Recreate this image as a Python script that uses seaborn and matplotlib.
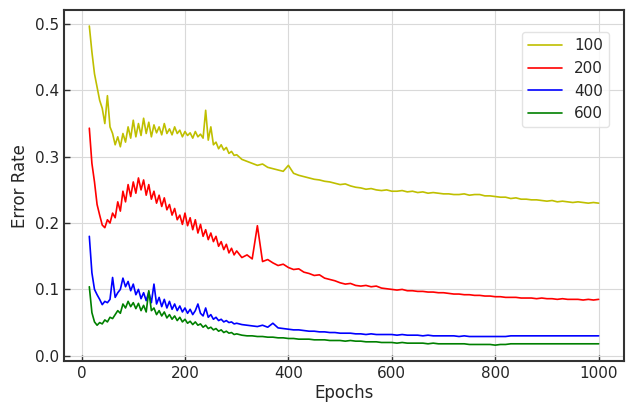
# Error rate vs. epochs for four settings (100, 200, 400, 600)

import numpy as np
import pandas as pd
import matplotlib.pyplot as plt
import seaborn as sns

# --------------------------------------------------
# Data
# --------------------------------------------------

# epochs 15..295 every 5, then 300..1000 every 10
epochs_early = np.arange(15, 300, 5)
epochs_late = np.arange(300, 1001, 10)
epochs = np.concatenate([epochs_early, epochs_late])

err_100 = [
    0.497, 0.458, 0.425, 0.405, 0.385, 0.373, 0.350, 0.392, 0.345, 0.335,
    0.318, 0.330, 0.315, 0.335, 0.322, 0.345, 0.328, 0.355, 0.330, 0.350,
    0.332, 0.358, 0.335, 0.352, 0.330, 0.348, 0.336, 0.345, 0.333, 0.350,
    0.335, 0.342, 0.333, 0.345, 0.335, 0.340, 0.330, 0.338, 0.332, 0.336,
    0.328, 0.338, 0.330, 0.334, 0.328, 0.370, 0.325, 0.345, 0.318, 0.322,
    0.312, 0.318, 0.310, 0.314, 0.305, 0.308, 0.302,
    0.303, 0.296, 0.293, 0.290, 0.287, 0.289, 0.284, 0.282, 0.280, 0.278,
    0.287, 0.275, 0.272, 0.270, 0.268, 0.266, 0.265, 0.263, 0.262, 0.260,
    0.258, 0.259, 0.256, 0.254, 0.253, 0.251, 0.252, 0.250, 0.249, 0.250,
    0.248, 0.248, 0.249, 0.247, 0.248, 0.246, 0.247, 0.245, 0.246, 0.245,
    0.244, 0.244, 0.243, 0.243, 0.244, 0.242, 0.243, 0.243, 0.241, 0.241,
    0.240, 0.239, 0.239, 0.237, 0.238, 0.236, 0.236, 0.235, 0.235, 0.234,
    0.233, 0.234, 0.232, 0.233, 0.232, 0.231, 0.232, 0.231, 0.230, 0.231,
    0.230,
]

err_200 = [
    0.343, 0.290, 0.262, 0.228, 0.212, 0.197, 0.193, 0.205, 0.200, 0.215,
    0.208, 0.232, 0.218, 0.248, 0.232, 0.258, 0.240, 0.262, 0.245, 0.268,
    0.250, 0.265, 0.242, 0.258, 0.236, 0.248, 0.230, 0.242, 0.225, 0.238,
    0.220, 0.228, 0.212, 0.222, 0.205, 0.212, 0.198, 0.215, 0.196, 0.208,
    0.190, 0.205, 0.185, 0.198, 0.180, 0.190, 0.175, 0.185, 0.172, 0.180,
    0.165, 0.172, 0.160, 0.168, 0.155, 0.162, 0.152,
    0.158, 0.148, 0.152, 0.146, 0.196, 0.142, 0.145, 0.140, 0.136, 0.138,
    0.133, 0.130, 0.131, 0.126, 0.124, 0.121, 0.122, 0.117, 0.115, 0.113,
    0.110, 0.108, 0.109, 0.106, 0.105, 0.106, 0.104, 0.105, 0.102, 0.101,
    0.100, 0.099, 0.100, 0.098, 0.098, 0.097, 0.097, 0.096, 0.096, 0.095,
    0.095, 0.094, 0.093, 0.093, 0.092, 0.092, 0.091, 0.091, 0.090, 0.090,
    0.089, 0.089, 0.088, 0.088, 0.088, 0.087, 0.087, 0.087, 0.086, 0.087,
    0.086, 0.086, 0.085, 0.086, 0.085, 0.085, 0.085, 0.084, 0.085, 0.084,
    0.085,
]

err_400 = [
    0.180, 0.125, 0.100, 0.092, 0.085, 0.077, 0.082, 0.080, 0.085, 0.118,
    0.088, 0.095, 0.100, 0.117, 0.104, 0.112, 0.098, 0.108, 0.092, 0.100,
    0.086, 0.095, 0.083, 0.096, 0.080, 0.108, 0.078, 0.088, 0.074, 0.085,
    0.072, 0.082, 0.070, 0.078, 0.068, 0.075, 0.066, 0.072, 0.064, 0.070,
    0.062, 0.068, 0.078, 0.064, 0.060, 0.072, 0.058, 0.062, 0.055, 0.058,
    0.053, 0.055, 0.051, 0.053, 0.050, 0.051, 0.048,
    0.049, 0.047, 0.046, 0.045, 0.044, 0.046, 0.043, 0.049, 0.042, 0.041,
    0.040, 0.039, 0.039, 0.038, 0.037, 0.037, 0.036, 0.036, 0.035, 0.035,
    0.034, 0.034, 0.034, 0.033, 0.033, 0.032, 0.033, 0.032, 0.032, 0.032,
    0.032, 0.031, 0.032, 0.031, 0.031, 0.031, 0.030, 0.031, 0.030, 0.030,
    0.030, 0.030, 0.030, 0.029, 0.030, 0.029, 0.029, 0.029, 0.029, 0.029,
    0.029, 0.029, 0.029, 0.030, 0.030, 0.030, 0.030, 0.030, 0.030, 0.030,
    0.030, 0.030, 0.030, 0.030, 0.030, 0.030, 0.030, 0.030, 0.030, 0.030,
    0.030,
]

err_600 = [
    0.104, 0.065, 0.051, 0.046, 0.050, 0.048, 0.054, 0.051, 0.058, 0.056,
    0.062, 0.068, 0.064, 0.078, 0.072, 0.082, 0.074, 0.080, 0.071, 0.079,
    0.068, 0.076, 0.066, 0.098, 0.068, 0.072, 0.062, 0.068, 0.060, 0.066,
    0.057, 0.062, 0.055, 0.060, 0.053, 0.058, 0.051, 0.055, 0.049, 0.052,
    0.047, 0.051, 0.046, 0.048, 0.043, 0.046, 0.041, 0.043, 0.039, 0.041,
    0.037, 0.039, 0.035, 0.037, 0.034, 0.035, 0.032,
    0.033, 0.031, 0.030, 0.030, 0.029, 0.029, 0.028, 0.028, 0.027, 0.027,
    0.026, 0.026, 0.025, 0.025, 0.025, 0.024, 0.024, 0.024, 0.023, 0.023,
    0.023, 0.022, 0.023, 0.022, 0.022, 0.021, 0.021, 0.021, 0.020, 0.020,
    0.020, 0.019, 0.020, 0.019, 0.019, 0.019, 0.019, 0.018, 0.019, 0.018,
    0.018, 0.018, 0.018, 0.018, 0.018, 0.017, 0.017, 0.017, 0.017, 0.017,
    0.016, 0.017, 0.017, 0.018, 0.018, 0.018, 0.018, 0.018, 0.018, 0.018,
    0.018, 0.018, 0.018, 0.018, 0.018, 0.018, 0.018, 0.018, 0.018, 0.018,
    0.018,
]

series_labels = ["100", "200", "400", "600"]
series_colors = ["#bfbf00", "#ff0000", "#0000ff", "#008000"]

df = pd.DataFrame({
    "Epochs": np.tile(epochs, 4),
    "Error Rate": err_100 + err_200 + err_400 + err_600,
    "Setting": np.repeat(series_labels, len(epochs)),
})

# --------------------------------------------------
# Style
# --------------------------------------------------

sns.set_style("whitegrid", {
    "grid.color": "#d9d9d9",
    "axes.edgecolor": "#333333",
    "xtick.direction": "in",
    "ytick.direction": "in",
    "xtick.bottom": True,
    "ytick.left": True,
})
plt.rcParams["font.family"] = ["DejaVu Sans"]

# --------------------------------------------------
# Plot
# --------------------------------------------------

fig = plt.figure(figsize=(6.26, 4.03), dpi=100)
ax = fig.add_axes([0.102, 0.104, 0.895, 0.871])

sns.lineplot(
    data=df,
    x="Epochs",
    y="Error Rate",
    hue="Setting",
    palette=series_colors,
    linewidth=1.2,
    ax=ax,
)

for spine in ax.spines.values():
    spine.set_linewidth(1.5)

ax.set_xticks([0, 200, 400, 600, 800, 1000])
ax.set_yticks([0.0, 0.1, 0.2, 0.3, 0.4, 0.5])
ax.tick_params(axis="both", labelsize=11, length=4, width=1, color="#333333")
ax.set_xlabel("Epochs", fontsize=12, labelpad=2)
ax.set_ylabel("Error Rate", fontsize=12, labelpad=4)

ax.legend(
    title=None,
    loc="upper right",
    bbox_to_anchor=(0.973, 0.937),
    borderaxespad=0,
    fontsize=11,
    handlelength=2.2,
    frameon=True,
    edgecolor="#dddddd",
)

plt.savefig("out.png", dpi=100)
plt.close()
